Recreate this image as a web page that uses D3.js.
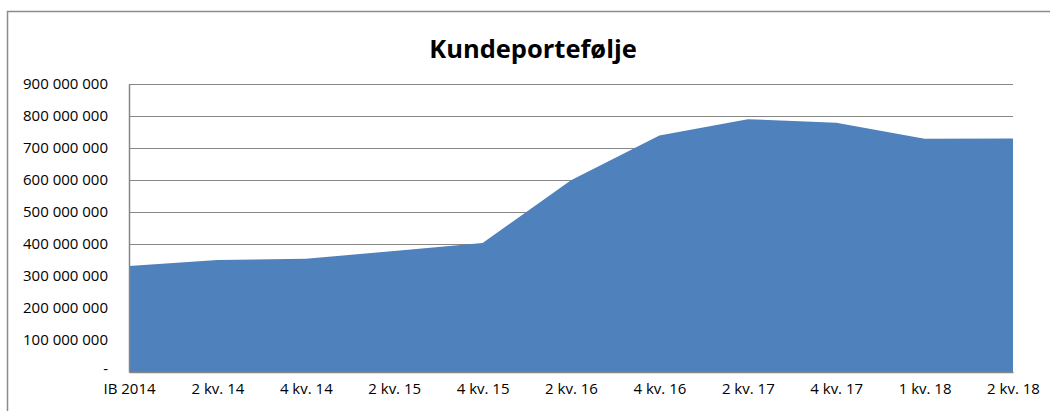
<!DOCTYPE html>
<html>
<head>
<meta charset="utf-8">
<script src="https://cdn.jsdelivr.net/npm/d3@7"></script>
<style>
  body { margin: 0; background: #fff; }
  text { font-family: "Open Sans", sans-serif; fill: #000; }
</style>
</head>
<body>
<svg id="chart"></svg>
<script>
const CATEGORIES = [
  "IB 2014", "2 kv. 14", "4 kv. 14", "2 kv. 15", "4 kv. 15", "2 kv. 16",
  "4 kv. 16", "2 kv. 17", "4 kv. 17", "1 kv. 18", "2 kv. 18",
];
const PORTFOLIO = [
  331e6, 350e6, 354e6, 378e6, 403e6, 599e6,
  739e6, 790e6, 779e6, 729e6, 730e6,
];
const Y_TICKS = [0, 1e8, 2e8, 3e8, 4e8, 5e8, 6e8, 7e8, 8e8, 9e8];
const TITLE = "Kundeportefølje";

const width = 1050, height = 411;
const margin = { top: 84, right: 37, bottom: 39, left: 129 };
const innerW = width - margin.left - margin.right;
const innerH = height - margin.top - margin.bottom;

const svg = d3.select("#chart").attr("width", width).attr("height", height);

// chart area border (runs off the right and bottom edges)
svg.append("rect")
  .attr("x", 7.5).attr("y", 11.5)
  .attr("width", 1100).attr("height", 500)
  .attr("fill", "none")
  .attr("stroke", "#8c8c8c")
  .attr("stroke-width", 1.5);

svg.append("text")
  .attr("x", 533).attr("y", 58)
  .attr("text-anchor", "middle")
  .style("font-size", "25.5px")
  .style("font-weight", "bold")
  .text(TITLE);

const g = svg.append("g").attr("transform", `translate(${margin.left},${margin.top})`);

const x = d3.scalePoint().domain(CATEGORIES).range([0, innerW]);
const y = d3.scaleLinear().domain([0, 9e8]).range([innerH, 0]);

const fmt = (v) => v === 0 ? "-" : d3.format(",")(v).replace(/,/g, " ");

// gridlines
g.append("g")
  .selectAll("line")
  .data(Y_TICKS.filter((d) => d > 0))
  .join("line")
  .attr("x1", 0).attr("x2", innerW)
  .attr("y1", (d) => Math.round(y(d)) + 0.5)
  .attr("y2", (d) => Math.round(y(d)) + 0.5)
  .attr("stroke", "#868686")
  .attr("stroke-width", 1);

// area
const data = CATEGORIES.map((c, i) => ({ key: c, value: PORTFOLIO[i] }));
const area = d3.area()
  .x((d) => x(d.key))
  .y0(y(0))
  .y1((d) => y(d.value));

g.append("path")
  .datum(data)
  .attr("d", area)
  .attr("fill", "#4f81bd");

// axes
const yAxis = d3.axisLeft(y).tickValues(Y_TICKS).tickFormat(fmt).tickSize(0).tickPadding(21);
const yAxisG = g.append("g").call(yAxis);
yAxisG.select(".domain").attr("stroke", "#868686").attr("stroke-width", 1.5);
yAxisG.selectAll("text").style("font-size", "15px").style("font-family", "'Open Sans', sans-serif");
// the zero label "-" sits a touch higher so it clears the category labels
yAxisG.selectAll(".tick").filter((d) => d === 0).select("text").attr("dy", "0.1em");

const xAxis = d3.axisBottom(x).tickSize(0).tickPadding(11);
const xAxisG = g.append("g").attr("transform", `translate(0,${innerH})`).call(xAxis);
xAxisG.select(".domain").attr("stroke", "#868686").attr("stroke-width", 1.5);
xAxisG.selectAll("text").style("font-size", "15px").style("font-family", "'Open Sans', sans-serif");
</script>
</body>
</html>
